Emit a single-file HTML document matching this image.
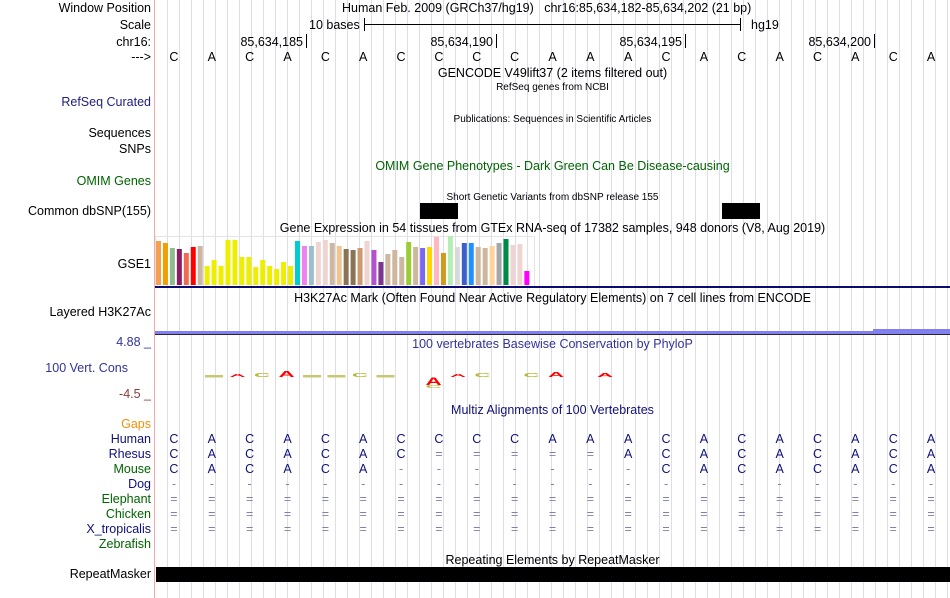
<!DOCTYPE html>
<html><head><meta charset="utf-8"><style>
body{margin:0;width:950px;height:598px;background:#fff;overflow:hidden;position:relative;font-family:"Liberation Sans",Arial,sans-serif;}
.t{position:absolute;white-space:nowrap;font-size:12.5px;line-height:14px;color:#000;}
.l{position:absolute;right:799px;text-align:right;white-space:nowrap;font-size:12.5px;line-height:14px;}
.c{position:absolute;left:155px;width:795px;text-align:center;white-space:nowrap;line-height:14px;}
.s{font-size:10px}
.g{position:absolute;top:0;width:1px;height:598px;background:#dcdcf4;}
.b{position:absolute;width:20px;margin-left:-10px;text-align:center;font-size:12.5px;line-height:14px;}
</style></head><body>
<div id="grid"></div>
<div style="position:absolute;left:154px;top:0;width:1px;height:598px;background:#f4a8a8"></div>

<div class="l" style="top:1px;color:#000">Window Position</div>
<div class="l" style="top:18px">Scale</div>
<div class="l" style="top:35px">chr16:</div>
<div class="l" style="top:50px">---&gt;</div>
<div class="l" style="top:95px;color:#20207f">RefSeq Curated</div>
<div class="l" style="top:126px">Sequences</div>
<div class="l" style="top:142px">SNPs</div>
<div class="l" style="top:174px;color:#006400">OMIM Genes</div>
<div class="l" style="top:204px">Common dbSNP(155)</div>
<div class="l" style="top:257px">GSE1</div>
<div class="l" style="top:305px">Layered H3K27Ac</div>
<div class="l" style="top:335px;color:#333399">4.88 _</div>
<div class="l" style="top:361px;right:822px;color:#333399">100 Vert. Cons</div>
<div class="l" style="top:387px;color:#8b3a3a">-4.5 _</div>
<div class="l" style="top:417px;color:#f0900a">Gaps</div>
<div id="species"></div>
<div class="l" style="top:567px">RepeatMasker</div>

<div class="t" style="left:342px;top:1px">Human Feb. 2009 (GRCh37/hg19)&nbsp;&nbsp;&nbsp;chr16:85,634,182-85,634,202 (21 bp)</div>
<div class="t" style="left:309px;top:18px">10 bases</div>
<div style="position:absolute;left:364px;top:24px;width:377px;height:1px;background:#000"></div>
<div style="position:absolute;left:364px;top:18px;width:1px;height:13px;background:#000"></div>
<div style="position:absolute;left:740px;top:18px;width:1px;height:13px;background:#000"></div>
<div class="t" style="left:751px;top:18px">hg19</div>
<div id="ticks"></div>
<div id="bases"></div>

<div class="c" style="top:66px;font-size:12.5px">GENCODE V49lift37 (2 items filtered out)</div>
<div class="c s" style="top:81px">RefSeq genes from NCBI</div>
<div class="c s" style="top:113px">Publications: Sequences in Scientific Articles</div>
<div class="c" style="top:159px;font-size:12.5px;color:#006400">OMIM Gene Phenotypes - Dark Green Can Be Disease-causing</div>
<div class="c s" style="top:191px">Short Genetic Variants from dbSNP release 155</div>
<div style="position:absolute;left:420px;top:203px;width:38px;height:16px;background:#000"></div>
<div style="position:absolute;left:722px;top:203px;width:38px;height:16px;background:#000"></div>
<div class="c" style="top:221px;font-size:12.5px">Gene Expression in 54 tissues from GTEx RNA-seq of 17382 samples, 948 donors (V8, Aug 2019)</div>
<div style="position:absolute;left:155px;top:236px;width:378px;height:49px;border:1px solid #e4e4e4;border-bottom:none"></div>
<svg id="gtex" width="950" height="598" style="position:absolute;left:0;top:0"></svg>
<div style="position:absolute;left:155px;top:286px;width:795px;height:2px;background:#0a0a70"></div>
<div class="c" style="top:291px;font-size:12.5px">H3K27Ac Mark (Often Found Near Active Regulatory Elements) on 7 cell lines from ENCODE</div>
<div style="position:absolute;left:155px;top:331px;width:718px;height:3px;background:#8080f0"></div>
<div style="position:absolute;left:873px;top:329px;width:77px;height:5px;background:#8080f0"></div>
<div style="position:absolute;left:155px;top:334px;width:795px;height:1px;background:#302030"></div>
<div class="c" style="top:337px;font-size:12.5px;color:#333399">100 vertebrates Basewise Conservation by PhyloP</div>
<svg id="cons" width="950" height="598" style="position:absolute;left:0;top:0"></svg>
<div class="c" style="top:403px;font-size:12.5px;color:#10107a">Multiz Alignments of 100 Vertebrates</div>
<div id="aln"></div>
<div class="c" style="top:553px;font-size:12.5px">Repeating Elements by RepeatMasker</div>
<div style="position:absolute;left:156px;top:567px;width:794px;height:15px;background:#000"></div>

<script>
const gtexHeights=[44,42,37,36,32,38,39,19,25,19,45,45,28,28,18,25,19,16,23,19,44,39,39,43,45,42,39,36,35,37,44,35,23,31,35,28,43,38,37,38,48,32,49,38,42,42,38,37,39,42,46,40,41,14];
const gtexColors=["#f5a04f","#f0a000","#8fbc8f","#8b1c62","#ee6a50","#ff0000","#cdb79e","#eeee00","#eeee00","#eeee00","#eeee00","#eeee00","#eeee00","#eeee00","#eeee00","#eeee00","#eeee00","#eeee00","#eeee00","#eeee00","#00cdcd","#ee82ee","#9ac0cd","#eed5d2","#eed5d2","#cdb79e","#eec591","#8b7355","#8b7355","#cd9b6e","#eed5d2","#b452cd","#7a378b","#cdb79e","#cdb79e","#cdb79e","#9acd32","#cdb79e","#7b68ee","#ffd700","#ffb6c1","#cd9b1d","#b4eeb4","#d9d9d9","#3a5fcd","#1e90ff","#cdb79e","#cdb79e","#ffd39b","#a6a6a6","#008b45","#eed5d2","#eed5d2","#ff00ff"];
const topBases="CACACACCCCAAACACACACA".split("");
const rhesus="CACACAC=====ACACACACA".split("");
const mouse="CACACA-------CACACACA".split("");
const tickLabels=["85,634,185","85,634,190","85,634,195","85,634,200"];
const tickBaseIdx=[4,9,14,19];
const consSlot=[0,1,2,3,4,5,6,7,9,9,10,11,13,14,16];
const consGlyph=["-","^","C","A","-","-","C","-","A","C","^","C","C","A","A"];
const consScore=[2,3,4,6,2,2,4,2,-8,-3,3,4,4,5,4];

const X0=155, BW=(950-155)/21;
const bx=i=>X0+BW*(i+0.5);
const ns="http://www.w3.org/2000/svg";
const grid=document.getElementById('grid');
for(let x=167;x<950;x+=12){const d=document.createElement('div');d.className='g';d.style.left=x+'px';grid.appendChild(d);}
const tk=document.getElementById('ticks');
tickLabels.forEach((t,k)=>{const x=Math.round(X0+BW*tickBaseIdx[k]);
 const d=document.createElement('div');d.className='t';d.style.left=(x-70)+'px';d.style.width='67px';d.style.textAlign='right';d.style.top='35px';d.textContent=t;
 
 tk.appendChild(d);
 const m=document.createElement('div');m.style.cssText=`position:absolute;left:${x}px;top:34px;width:1px;height:14px;background:#000`;tk.appendChild(m);});
function row(arr,top,color,name,parent){arr.forEach((ch,i)=>{const d=document.createElement('div');d.className='b';d.style.left=bx(i)+'px';d.style.top=top+'px';
 let c=color;if(ch==='-'||ch==='=')c='#8080b0';d.style.color=c;d.textContent=ch;
 
 parent.appendChild(d);});}
row(topBases,50,'#000','reference-base',document.getElementById('bases'));
const aln=document.getElementById('aln');
const species=[["Human","#10107a"],["Rhesus","#10107a"],["Mouse","#006400"],["Dog","#10107a"],["Elephant","#006400"],["Chicken","#006400"],["X_tropicalis","#10107a"],["Zebrafish","#006400"]];
const sp=document.getElementById('species');
species.forEach((s,k)=>{const d=document.createElement('div');d.className='l';d.style.top=(432+15*k)+'px';d.style.color=s[1];d.textContent=s[0];
 
 sp.appendChild(d);});
row(topBases,432,'#10107a','human-base',aln);
row(rhesus,447,'#10107a','rhesus-base',aln);
row(mouse,462,'#10107a','mouse-base',aln);
row(Array(21).fill('-'),477,'#10107a','dog-base',aln);
row(Array(21).fill('='),492,'#10107a','elephant-base',aln);
row(Array(21).fill('='),507,'#10107a','chicken-base',aln);
row(Array(21).fill('='),522,'#10107a','xtropicalis-base',aln);
const sv=document.getElementById('gtex');const base=285;
gtexHeights.forEach((h,i)=>{const r=document.createElementNS(ns,'rect');
 r.setAttribute('x',156+i*6.95);r.setAttribute('y',base-h);r.setAttribute('width',5);r.setAttribute('height',h);r.setAttribute('fill',gtexColors[i]);
 
 sv.appendChild(r);});
// conservation logo
const cs=document.getElementById('cons');const mid=377;
const colorOf=g=>(g==='A'||g==='^')?'#ff0000':'#b8b830';
consSlot.forEach((s,i)=>{const h=consScore[i];const g=consGlyph[i];
 const x=205+s*24.5;
 if(g==='-'){const r=document.createElementNS(ns,'rect');r.setAttribute('x',x);r.setAttribute('y',mid-2);r.setAttribute('width',18);r.setAttribute('height',2.5);r.setAttribute('fill','#c8c870');
  
  cs.appendChild(r);return;}
 const t=document.createElementNS(ns,'text');
 t.setAttribute('font-family','Liberation Sans, sans-serif');t.setAttribute('font-size',14);t.setAttribute('font-weight','bold');
 t.setAttribute('fill',colorOf(g));
 const hh=Math.abs(h);let y=mid;
 if(h<0){y = (g==='A')? mid+hh : mid+8+hh;}
 t.setAttribute('transform',`translate(${x},${y}) scale(1.6,${hh/10})`);
 t.setAttribute('x',0);t.setAttribute('y',0);
 t.textContent=g==='^'?'A':g;
 
 cs.appendChild(t);});
</script>
</body></html>
